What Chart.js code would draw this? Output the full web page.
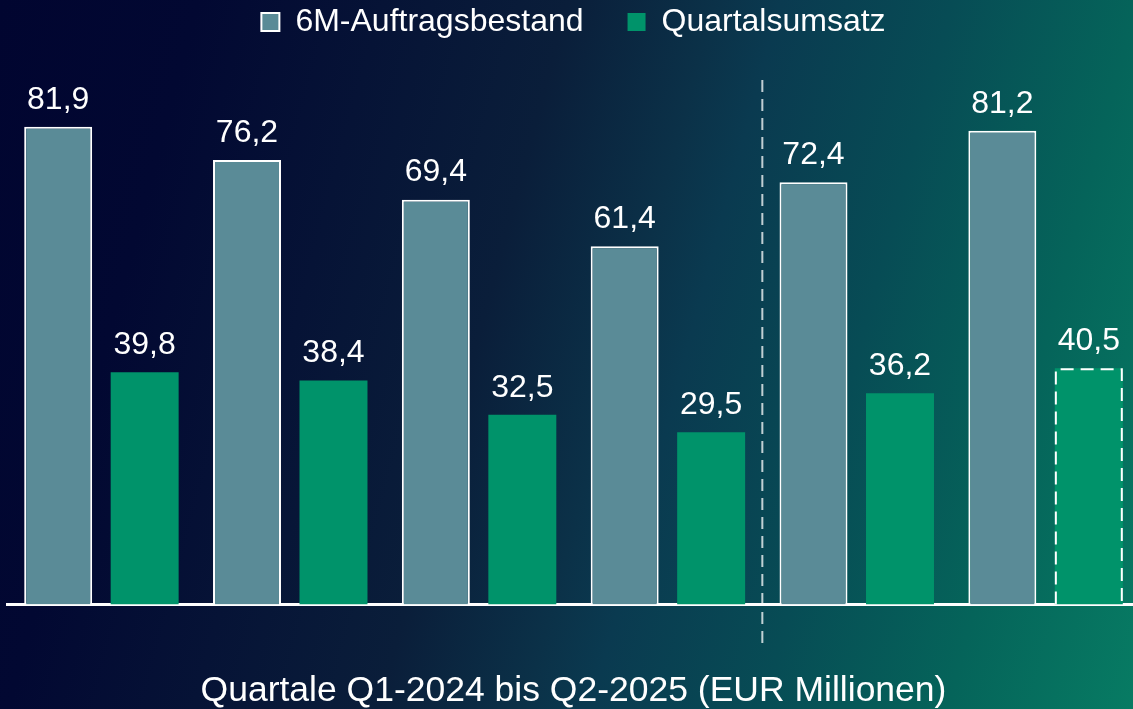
<!DOCTYPE html>
<html>
<head>
<meta charset="utf-8">
<script src="https://cdn.jsdelivr.net/npm/chart.js@4.4.1/dist/chart.umd.min.js"></script>
<style>
  html, body { margin: 0; padding: 0; overflow: hidden; }
  body {
    width: 1133px; height: 709px;
    background: linear-gradient(105deg, #010530 0%, #020832 15%, #0a1e3a 43%, #0b3148 54%, #0a3a50 59%, #074c55 72%, #05645a 86%, #077b63 100%);
  }
  #wrap { position: absolute; left: 0; top: 0; width: 1140px; height: 709px; }
</style>
</head>
<body>
<div id="wrap"><canvas id="chart"></canvas></div>
<script>
const quarters = ['Q1-2024', 'Q2-2024', 'Q3-2024', 'Q4-2024', 'Q1-2025', 'Q2-2025'];
const backlog = [81.9, 76.2, 69.4, 61.4, 72.4, 81.2];
const revenue = [39.8, 38.4, 32.5, 29.5, 36.2, 40.5];
const forecastIndex = 5; // last revenue bar is a forecast (dashed)

Chart.defaults.font.family = '"Liberation Sans", Arial, sans-serif';
Chart.defaults.color = '#ffffff';

// value labels above bars + dashed outline on the forecast bar + divider line
const extras = {
  id: 'extras',
  afterDatasetsDraw(chart) {
    const ctx = chart.ctx;
    const x = chart.scales.x;
    ctx.save();
    ctx.font = '32px "Liberation Sans", Arial, sans-serif';
    ctx.fillStyle = '#ffffff';
    ctx.textAlign = 'center';
    ctx.textBaseline = 'middle';
    chart.data.datasets.forEach((ds, i) => {
      chart.getDatasetMeta(i).data.forEach((bar, j) => {
        ctx.fillText(ds.data[j].toFixed(1).replace('.', ','), bar.x, bar.y - 27);
      });
    });

    const fb = chart.getDatasetMeta(1).data[forecastIndex];
    ctx.strokeStyle = '#ffffff';
    ctx.lineWidth = 2;
    ctx.setLineDash([13, 7]);
    ctx.beginPath();
    ctx.moveTo(fb.x - fb.width / 2 + 1, fb.base);
    ctx.lineTo(fb.x - fb.width / 2 + 1, fb.y + 1);
    ctx.lineTo(fb.x + fb.width / 2 - 1, fb.y + 1);
    ctx.lineTo(fb.x + fb.width / 2 - 1, fb.base);
    ctx.stroke();

    const divX = (x.getPixelForValue(3) + x.getPixelForValue(4)) / 2;
    ctx.strokeStyle = 'rgba(255,255,255,0.75)';
    ctx.setLineDash([12, 7]);
    ctx.beginPath();
    ctx.moveTo(divX, 80);
    ctx.lineTo(divX, 645);
    ctx.stroke();
    ctx.restore();
  }
};

new Chart(document.getElementById('chart'), {
  type: 'bar',
  data: {
    labels: quarters,
    datasets: [
      {
        label: '6M-Auftragsbestand',
        data: backlog,
        backgroundColor: '#5a8b97',
        borderColor: '#ffffff',
        borderWidth: 2
      },
      {
        label: 'Quartalsumsatz',
        data: revenue,
        backgroundColor: '#00936a',
        borderColor: '#00936a',
        borderWidth: 0
      }
    ]
  },
  options: {
    responsive: true,
    maintainAspectRatio: false,
    animation: false,
    categoryPercentage: 0.916,
    barPercentage: 0.786,
    // negative top padding lets the legend use wide item spacing without pushing the plot down
    layout: { padding: { left: 7, right: 0, top: -38, bottom: 0 } },
    plugins: {
      tooltip: { enabled: false },
      legend: {
        position: 'top',
        labels: {
          color: '#ffffff',
          font: { size: 32 },
          boxWidth: 18,
          boxHeight: 18,
          padding: 44
        }
      }
    },
    scales: {
      x: {
        grid: { display: false, drawTicks: false, tickLength: 0 },
        border: { display: true, color: '#ffffff', width: 3 },
        ticks: { display: false },
        title: {
          display: true,
          text: 'Quartale Q1-2024 bis Q2-2025 (EUR Millionen)',
          color: '#ffffff',
          font: { size: 35.5 },
          padding: { top: 66, bottom: -4 }
        }
      },
      y: {
        display: false,
        min: 0,
        max: 95.4
      }
    }
  },
  plugins: [extras]
});
</script>
</body>
</html>
